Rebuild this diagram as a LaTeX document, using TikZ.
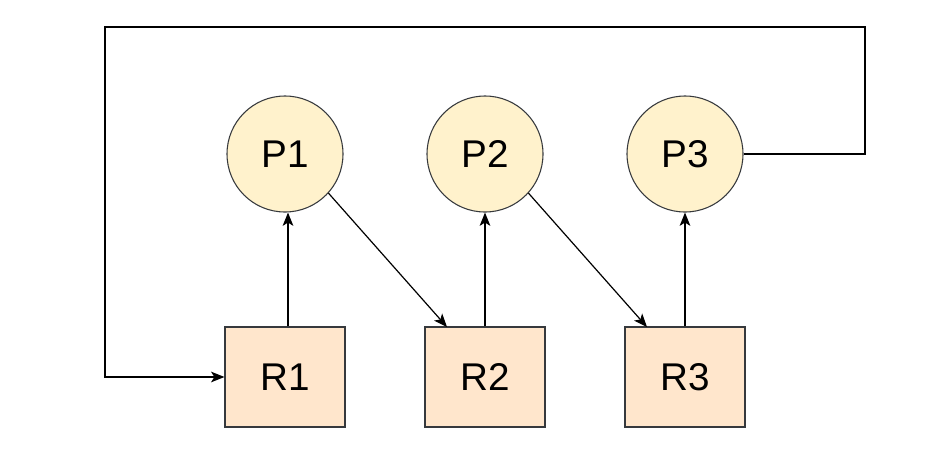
\documentclass[tikz,border=0pt]{standalone}
\usepackage{fontspec}
\setmainfont{Liberation Sans}
\usetikzlibrary{arrows.meta}
\definecolor{pfill}{HTML}{FFF2CC}
\definecolor{rfill}{HTML}{FFE6CC}
\definecolor{strk}{HTML}{36393D}
\begin{document}
\begin{tikzpicture}[x=0.75pt,y=-0.75pt,
  proc/.style={circle,draw=strk,fill=pfill,line width=0.8pt,minimum size=87pt,inner sep=0pt,font=\fontsize{29}{34}\selectfont},
  res/.style={rectangle,draw=strk,fill=rfill,line width=0.9pt,minimum width=90pt,minimum height=75pt,inner sep=0pt,font=\fontsize{29}{34}\selectfont},
  conn/.style={draw=black,line width=0.9pt},
  arr/.style={conn,-{Stealth[length=10pt,width=8pt,inset=2.5pt]}}]
\useasboundingbox (0,0) rectangle (946,472);
\node[proc] (P1) at (285,154) {P1};
\node[proc] (P2) at (485,154) {P2};
\node[proc] (P3) at (685,154) {P3};
\node[res] (R1) at (285,377) {R1};
\node[res] (R2) at (485,377) {R2};
\node[res] (R3) at (685,377) {R3};
\draw[arr] ([xshift=2.25pt]R1.north) -- ([xshift=2.25pt]R1.north |- P1.south);
\draw[arr] (R2.north) -- (P2.south);
\draw[arr] (R3.north) -- (P3.south);
\coordinate (t2) at (447,327);
\coordinate (t3) at (647,327);
\draw[arr] (P1.-42) -- (t2);
\draw[arr] (P2.-42) -- (t3);
\draw[arr] (P3.east) -- (865,154) -- (865,27) -- (105,27) -- (105,377) -- (R1.west);
\end{tikzpicture}
\end{document}
